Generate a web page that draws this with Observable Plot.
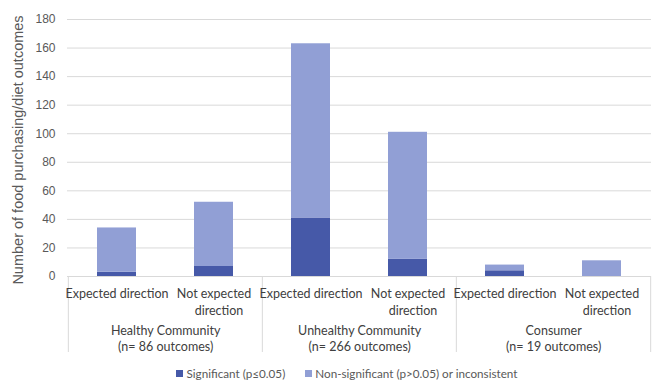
<!DOCTYPE html>
<html>
<head>
<meta charset="utf-8">
<script src="https://cdn.jsdelivr.net/npm/d3@7"></script>
<script src="https://cdn.jsdelivr.net/npm/@observablehq/plot@0.6"></script>
<style>
  html, body { margin: 0; padding: 0; background: #fff; }
  #chart { width: 662px; height: 391px; position: relative; overflow: hidden; }
  #legend { display: flex; justify-content: center; gap: 20px; margin-top: 8px; padding-left: 32px;
    font: 11.7px Lato, Carlito, Calibri, sans-serif; color: #595959; }
  #legend .item { display: flex; align-items: center; gap: 3px; }
  #legend .sw { width: 7px; height: 7px; display: inline-block; }
</style>
</head>
<body>
<div id="chart"></div>
<script>
const groups = ["Healthy Community", "Unhealthy Community", "Consumer"];
const groupN = ["(n= 86 outcomes)", "(n= 266 outcomes)", "(n= 19 outcomes)"];
const directionLine1 = ["Expected direction", "Not expected"];
const directionLine2 = ["", "direction"];
const seriesNames = ["Significant (p\u22640.05)", "Non-significant (p>0.05) or inconsistent"];
const seriesColors = ["#4659a8", "#919fd5"];
// bar order: Healthy-Exp, Healthy-NotExp, Unhealthy-Exp, Unhealthy-NotExp, Consumer-Exp, Consumer-NotExp
const significant = [3, 7, 41, 12, 4, 0];
const nonSignificant = [31, 45, 122, 89, 4, 11];
const yTicks = [0, 20, 40, 60, 80, 100, 120, 140, 160, 180];
const yTitle = "Number of food purchasing/diet outcomes";

const W = 662, H = 358;
const mL = 67, mR = 11, mT = 19, mB = 82;
const step = (W - mL - mR) / 6;

const bars = [];
groups.forEach((g, gi) => {
  [0, 1].forEach(di => {
    const i = gi * 2 + di;
    bars.push({
      i, gi, di,
      key: g + " | " + directionLine1[di] + " " + directionLine2[di],
      group: g, n: groupN[gi],
      line1: directionLine1[di], line2: directionLine2[di]
    });
  });
});
const keys = bars.map(b => b.key);

const stacked = [];
bars.forEach(b => {
  stacked.push({key: b.key, series: seriesNames[0], value: significant[b.i]});
  stacked.push({key: b.key, series: seriesNames[1], value: nonSignificant[b.i]});
});

const groupStarts = bars.filter(b => b.di === 0);
const lastBar = bars.filter(b => b.i === bars.length - 1);

const catFont = "Lato, Carlito, Calibri, 'Open Sans', sans-serif";

const plot = Plot.plot({
  width: W, height: H,
  marginLeft: mL, marginRight: mR, marginTop: mT, marginBottom: mB,
  style: {fontFamily: "'Liberation Sans', Arial, sans-serif", fontSize: "12px", color: "#595959", background: "#fff", overflow: "visible"},
  x: {type: "band", domain: keys, paddingInner: 0.6, paddingOuter: 0.3, axis: null},
  y: {domain: [0, 180], ticks: yTicks, tickSize: 0, tickPadding: 12, label: null},
  color: {domain: seriesNames, range: seriesColors},
  marks: [
    Plot.ruleY(yTicks, {y: d => d, stroke: "#d9d9d9", strokeWidth: 1}),
    Plot.barY(stacked, {x: "key", y: "value", fill: "series", order: seriesNames}),
    Plot.ruleX(groupStarts, {x: "key", dx: -step / 2, stroke: "#d9d9d9", insetTop: H - mT - mB, insetBottom: -76}),
    Plot.ruleX(lastBar, {x: "key", dx: step / 2, stroke: "#d9d9d9", insetTop: H - mT - mB, insetBottom: -76}),
    Plot.text(bars, {x: "key", y: () => 0, text: "line1", dy: 17, fill: "#404040", fontSize: 12.5, fontFamily: catFont}),
    Plot.text(bars, {x: "key", y: () => 0, text: "line2", dy: 34, dx: 5, fill: "#404040", fontSize: 12.5, fontFamily: catFont}),
    Plot.text(groupStarts, {x: "key", y: () => 0, text: "group", dx: step / 2, dy: 54, fill: "#404040", fontSize: 12.5, fontFamily: catFont}),
    Plot.text(groupStarts, {x: "key", y: () => 0, text: "n", dx: step / 2, dy: 70, fill: "#404040", fontSize: 12.5, fontFamily: catFont}),
    Plot.text([yTitle], {text: d => d, frameAnchor: "left", textAnchor: "middle", rotate: -90, dx: -49, dy: 2, fontSize: 14.5, fill: "#595959"})
  ]
});
document.getElementById("chart").appendChild(plot);

const legend = document.createElement("div");
legend.id = "legend";
seriesNames.forEach((s, k) => {
  const item = document.createElement("span");
  item.className = "item";
  const sw = document.createElement("span");
  sw.className = "sw";
  sw.style.background = seriesColors[k];
  item.appendChild(sw);
  item.appendChild(document.createTextNode(s));
  legend.appendChild(item);
});
document.getElementById("chart").appendChild(legend);
</script>
</body>
</html>
